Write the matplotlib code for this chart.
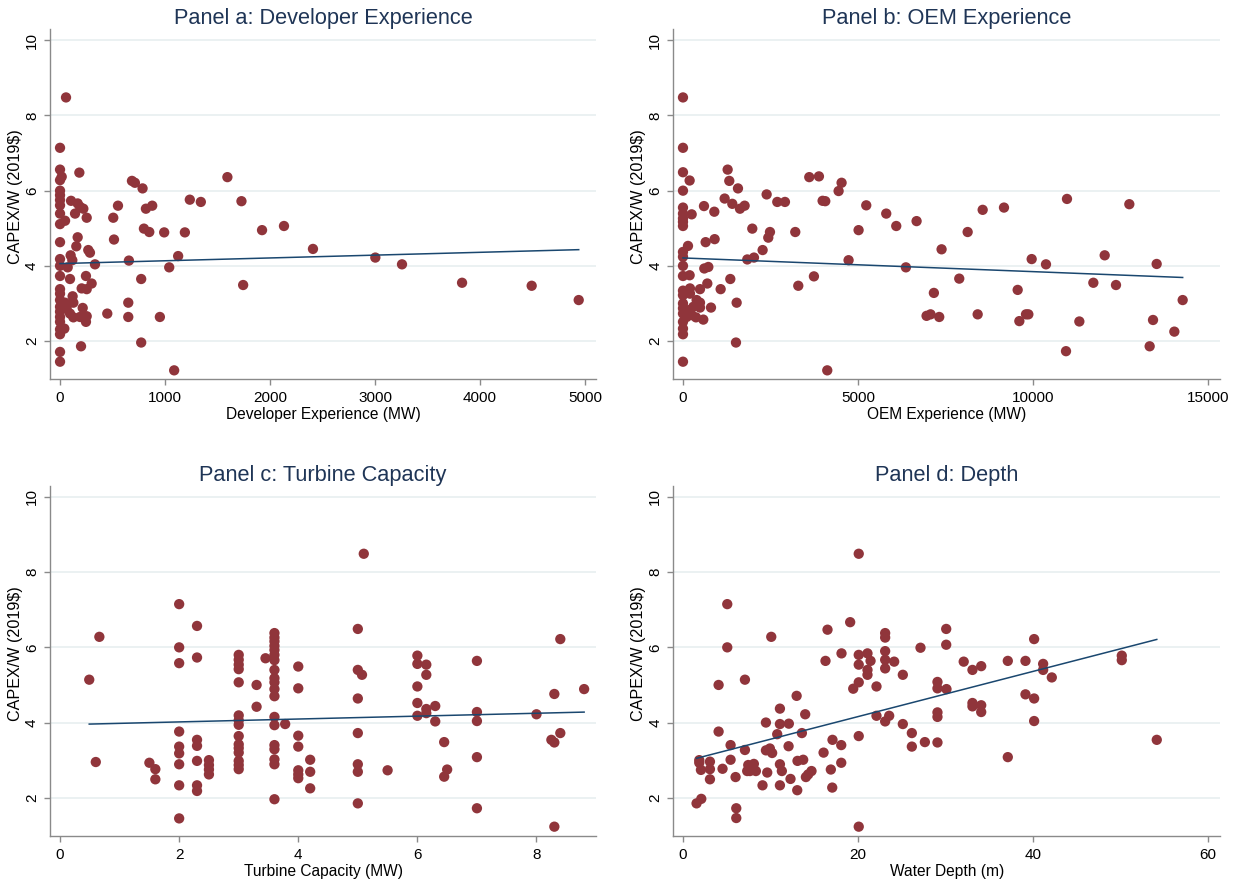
import numpy as np
import matplotlib.pyplot as plt

plt.rcParams["font.family"] = ["Liberation Sans", "DejaVu Sans"]

# =============================================================================
# Style
# =============================================================================
MAROON = "#90353b"
NAVY = "#1a476f"
TITLE = "#1f3556"
GRID = "#e8eff0"
AXIS = "#8a8a8a"

# =============================================================================
# Data
# =============================================================================
# Panel a: developer experience (MW) vs CAPEX/W
dev_exp = [57, 0, 0, 16, 0, 184, 685, 713, 786, 0, 0, 0, 105, 0, 168, 190, 222, 143, 0, 254,
           48, 0, 552, 507, 818, 878, 1236, 1341, 1594, 1728, 799, 850, 992, 1189, 1924, 2133, 2409, 0, 168, 155,
           514, 269, 285, 101, 117, 0, 0, 73, 333, 656, 1125, 1040, 0, 95, 247, 301, 206, 254, 773, 1744,
           0, 0, 120, 0, 48, 127, 0, 63, 216, 0, 95, 0, 190, 254, 127, 247, 450, 650, 650, 951,
           0, 41, 0, 0, 773, 200, 0, 0, 1087, 3003, 3257, 3829, 4492, 4940]
dev_capex = [8.48, 7.14, 6.56, 6.37, 6.28, 6.48, 6.26, 6.21, 6.06, 6.00, 5.88, 5.75, 5.73, 5.61, 5.66, 5.57, 5.52, 5.39, 5.39, 5.28,
             5.20, 5.11, 5.60, 5.28, 5.52, 5.60, 5.76, 5.70, 6.36, 5.72, 4.99, 4.90, 4.89, 4.89, 4.95, 5.06, 4.45, 4.63, 4.76, 4.52,
             4.70, 4.42, 4.35, 4.28, 4.15, 4.18, 4.00, 3.96, 4.04, 4.14, 4.26, 3.96, 3.73, 3.65, 3.73, 3.53, 3.40, 3.38, 3.65, 3.49,
             3.38, 3.26, 3.19, 3.09, 3.02, 3.02, 2.91, 2.87, 2.88, 2.78, 2.73, 2.64, 2.64, 2.66, 2.63, 2.51, 2.73, 3.02, 2.64, 2.64,
             2.51, 2.33, 2.31, 2.18, 1.96, 1.86, 1.71, 1.45, 1.22, 4.22, 4.04, 3.55, 3.47, 3.09]

# Panel b: OEM experience (MW) vs CAPEX/W
oem_exp = [0, 0, 0, 190, 0, 1276, 1323, 1571, 1190, 1409, 1628, 1761, 2390, 2694, 2913, 3608, 3884, 3989, 4065, 4446,
           4531, 0, 0, 248, 0, 0, 0, 600, 895, 1980, 2485, 2437, 3208, 647, 904, 143, 0, 0, 1837, 2028,
           2275, 4731, 5236, 5807, 6093, 6674, 5017, 7388, 6369, 0, 0, 190, 609, 724, 695, 486, 1076, 1352, 3294, 3741,
           1533, 1514, 4122, 7168, 6959, 7073, 7321, 7893, 0, 0, 200, 200, 0, 0, 0, 152, 295, 390, 486, 486,
           248, 371, 580, 800, 105, 0, 0, 0, 0, 8133, 8562, 9171, 8419, 9562, 9610, 9800, 9867, 9962, 10371, 10943,
           10971, 11324, 11724, 12048, 12371, 12752, 13333, 13429, 13533, 14038, 14276]
oem_capex = [8.48, 7.14, 6.49, 6.27, 6.00, 6.56, 6.26, 6.06, 5.79, 5.65, 5.52, 5.60, 5.90, 5.70, 5.70, 6.36, 6.38, 5.73, 5.72, 5.99,
             6.21, 5.55, 5.39, 5.37, 5.26, 5.17, 5.06, 5.59, 5.44, 4.99, 4.90, 4.75, 4.90, 4.63, 4.71, 4.53, 4.37, 4.24, 4.17, 4.22,
             4.42, 4.15, 5.61, 5.39, 5.06, 5.19, 4.95, 4.44, 3.96, 4.00, 3.73, 3.75, 3.93, 3.97, 3.53, 3.38, 3.38, 3.65, 3.47, 3.72,
             3.02, 1.96, 1.22, 3.28, 2.67, 2.71, 2.64, 3.66, 3.34, 3.22, 3.40, 3.26, 3.00, 2.87, 2.73, 2.82, 2.91, 3.09, 3.02, 2.89,
             2.69, 2.63, 2.57, 2.89, 2.64, 2.51, 2.33, 2.18, 1.45, 4.90, 5.49, 5.55, 2.71, 3.36, 2.53, 2.71, 2.71, 4.18, 4.04, 1.73,
             5.78, 2.52, 3.55, 4.28, 3.49, 5.64, 1.86, 2.56, 4.05, 2.25, 3.09]

# Panel c: turbine capacity (MW) vs CAPEX/W
turb_cap = [0.49, 0.66, 0.60, 2.0, 2.0, 2.0, 2.0, 2.0, 2.0, 2.0, 2.0, 2.0, 2.3, 2.3, 2.3, 2.3, 2.3, 2.3, 2.3, 1.5,
            1.6, 1.6, 2.5, 2.5, 2.5, 2.5, 3.0, 3.0, 3.0, 3.0, 3.0, 3.0, 3.0, 3.0, 3.0, 3.0, 3.0, 3.0, 3.0, 3.0,
            3.0, 3.3, 3.3, 3.45, 3.6, 3.6, 3.6, 3.6, 3.6, 3.6, 3.6, 3.6, 3.6, 3.6, 3.6, 3.6, 3.6, 3.6, 3.6, 3.6,
            3.6, 3.6, 3.6, 3.78, 4.0, 4.0, 4.0, 4.0, 4.0, 4.0, 4.0, 4.2, 4.2, 4.2, 5.1, 5.0, 5.0, 5.07, 5.0, 5.0,
            5.0, 5.0, 5.0, 5.5, 6.0, 6.0, 6.15, 6.15, 6.0, 6.0, 6.15, 6.3, 6.15, 6.0, 6.3, 6.45, 6.5, 6.45, 7.0, 7.0,
            7.0, 7.0, 7.0, 8.0, 8.3, 8.4, 8.4, 8.25, 8.3, 8.3, 8.8]
turb_capex = [5.14, 6.28, 2.95, 7.15, 6.00, 5.58, 3.76, 3.36, 3.18, 2.89, 2.33, 1.45, 6.57, 5.73, 3.54, 3.38, 2.98, 2.33, 2.18, 2.93,
              2.76, 2.49, 3.00, 2.87, 2.75, 2.62, 5.80, 5.67, 5.54, 5.42, 5.07, 4.19, 4.06, 3.94, 3.64, 3.42, 3.32, 3.20, 2.98, 2.87,
              2.76, 5.00, 4.42, 5.71, 6.38, 6.26, 6.16, 6.04, 5.93, 5.80, 5.66, 5.40, 5.18, 5.07, 4.89, 4.70, 4.15, 3.93, 3.40, 3.29,
              3.02, 2.89, 1.96, 3.96, 5.49, 4.91, 3.65, 3.36, 2.73, 2.62, 2.52, 3.01, 2.69, 2.25, 8.49, 6.49, 5.40, 5.27, 4.64, 3.72,
              2.89, 2.69, 1.85, 2.73, 5.78, 5.56, 5.54, 5.27, 4.96, 4.52, 4.36, 4.44, 4.25, 4.18, 4.03, 3.48, 2.75, 2.56, 5.64, 4.28,
              4.04, 3.08, 1.72, 4.22, 4.76, 6.22, 3.72, 3.54, 3.47, 1.23, 4.89]

# Panel d: water depth (m) vs CAPEX/W
depth = [20.1, 5.07, 5.07, 10.1, 4.08, 7.09, 1.87, 1.87, 2.06, 3.09, 3.09, 3.09, 1.56, 2.1, 4.08, 5.45, 5.45, 4.53, 6.02, 6.1,
         6.1, 7.09, 7.47, 7.66, 8.11, 8.34, 7.35, 9.1, 9.49, 9.64, 9.94, 10.2, 10.78, 11.09, 11.09, 11.09, 11.31, 11.09, 12.11, 12.08,
         12.3, 13.0, 13.07, 13.1, 13.75, 13.6, 13.98, 14.06, 14.32, 14.7, 9.49, 16.08, 16.3, 16.53, 16.91, 17.07, 17.1, 18.1, 18.1, 18.13,
         19.12, 19.47, 20.1, 20.1, 20.1, 20.1, 20.1, 21.1, 21.45, 21.1, 21.1, 22.13, 22.13, 23.12, 23.12, 23.12, 23.12, 23.12, 24.15, 23.12,
         23.58, 25.14, 25.14, 26.17, 26.17, 27.16, 27.66, 29.1, 29.1, 29.1, 29.1, 29.1, 30.1, 30.1, 30.13, 32.1, 33.1, 34.1, 33.1, 33.1,
         34.1, 34.1, 37.14, 37.14, 39.16, 39.16, 40.15, 40.15, 40.15, 41.18, 41.18, 42.17, 50.17, 50.17, 54.17]
depth_capex = [8.49, 7.15, 6.00, 6.28, 5.00, 5.14, 3.00, 2.93, 2.74, 2.96, 2.76, 2.49, 1.85, 1.97, 3.76, 3.40, 3.01, 2.77, 2.55, 1.72,
               1.46, 3.27, 2.87, 2.71, 2.90, 2.71, 2.71, 2.33, 3.26, 2.67, 3.31, 3.19, 3.69, 4.37, 3.96, 2.89, 2.71, 2.33, 3.97, 3.37,
               2.50, 4.71, 2.20, 2.98, 3.01, 3.72, 4.22, 2.55, 2.62, 2.71, 4.00, 3.20, 5.64, 6.47, 2.75, 2.27, 3.54, 3.40, 2.93, 5.84,
               6.67, 4.90, 5.80, 5.54, 5.07, 3.64, 1.23, 5.84, 5.64, 5.40, 5.27, 4.96, 4.18, 6.38, 6.26, 5.90, 5.67, 5.44, 5.62, 4.03,
               4.18, 5.27, 3.96, 3.72, 3.36, 5.99, 3.48, 5.08, 4.91, 4.27, 4.15, 3.47, 6.49, 6.07, 4.89, 5.62, 5.40, 5.50, 4.52, 4.43,
               4.46, 4.28, 5.64, 3.08, 5.64, 4.75, 6.22, 4.64, 4.04, 5.56, 5.40, 5.20, 5.78, 5.66, 3.54]

# Fitted lines as shown in the reference: (intercept, slope)
fit_dev = (4.06, 7.5e-5)
fit_oem = (4.21, -3.64e-5)
fit_turb = (3.94, 0.0384)
fit_depth = (2.955, 0.0601)

Y_TICKS = [2, 4, 6, 8, 10]


# =============================================================================
# Helpers
# =============================================================================
def draw_panel(ax, x, y, fit, title, xlabel, xticks, xlim):
    """Scatter with a linear fit, styled like the Stata s2color scheme."""
    x = np.asarray(x, dtype=float)
    y = np.asarray(y, dtype=float)

    ax.scatter(x, y, s=55, color=MAROON, edgecolors="none", zorder=3)

    # linear fit over the observed range
    intercept, slope = fit
    xs = np.array([x.min(), x.max()])
    ax.plot(xs, intercept + slope * xs, color=NAVY, lw=1.1, zorder=4)

    ax.set_xlim(*xlim)
    ax.set_ylim(0.99, 10.3)
    ax.set_xticks(xticks)
    ax.set_yticks(Y_TICKS)
    ax.yaxis.grid(True, color=GRID, lw=1.2, zorder=0)
    ax.set_axisbelow(True)

    for side in ["top", "right"]:
        ax.spines[side].set_visible(False)
    for side in ["left", "bottom"]:
        ax.spines[side].set_color(AXIS)
        ax.spines[side].set_linewidth(1.0)

    ax.tick_params(axis="both", colors=AXIS, labelcolor="black", labelsize=11, length=4.5, width=1.0)
    ax.tick_params(axis="x", pad=4)
    for lab in ax.get_yticklabels():
        lab.set_rotation(90)
        lab.set_va("center")

    ax.set_title(title, color=TITLE, fontsize=15.7, pad=2)
    ax.set_xlabel(xlabel, fontsize=11.2, labelpad=1.5)
    ax.set_ylabel("CAPEX/W (2019$)", fontsize=11.6)
    ax.yaxis.set_label_coords(-0.05, 0.52)


# =============================================================================
# Figure
# =============================================================================
fig = plt.figure(figsize=(12.42, 8.82), dpi=100)
fig.patch.set_facecolor("white")

ax_a = fig.add_axes([0.0403, 0.5703, 0.4396, 0.3968])
ax_b = fig.add_axes([0.5421, 0.5703, 0.4402, 0.3968])
ax_c = fig.add_axes([0.0403, 0.0525, 0.4396, 0.3968])
ax_d = fig.add_axes([0.5421, 0.0525, 0.4402, 0.3968])

draw_panel(ax_a, dev_exp, dev_capex, fit_dev, "Panel a: Developer Experience",
           "Developer Experience (MW)", [0, 1000, 2000, 3000, 4000, 5000], (-95, 5105))
draw_panel(ax_b, oem_exp, oem_capex, fit_oem, "Panel b: OEM Experience",
           "OEM Experience (MW)", [0, 5000, 10000, 15000], (-277, 15343))
draw_panel(ax_c, turb_cap, turb_capex, fit_turb, "Panel c: Turbine Capacity",
           "Turbine Capacity (MW)", [0, 2, 4, 6, 8], (-0.168, 9.0))
draw_panel(ax_d, depth, depth_capex, fit_depth, "Panel d: Depth",
           "Water Depth (m)", [0, 20, 40, 60], (-1.1, 61.4))

fig.savefig("out.png", dpi=100, facecolor="white")
